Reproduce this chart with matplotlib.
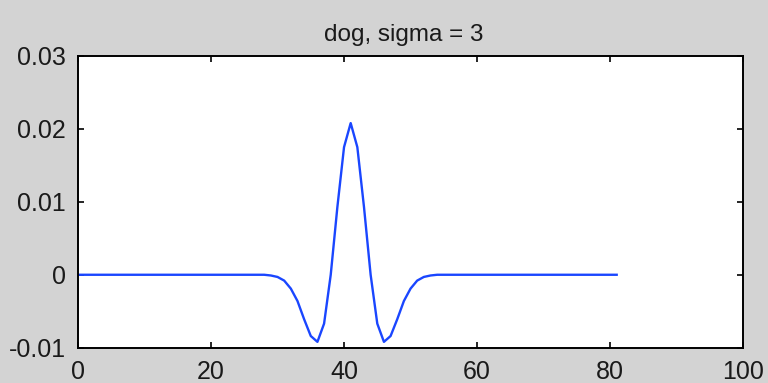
import matplotlib.pyplot as plt

# sample index along the filter
x_vals = list(range(82))

# filter response: flat tails, dog lobe in the middle (x = 29 .. 53)
left_tail = [0.0] * 29
lobe = [-0.0001, -0.0003, -0.0008, -0.0019, -0.0036, -0.0061, -0.0084,
        -0.0092, -0.0067, 0.0, 0.0093, 0.0175, 0.0208, 0.0175, 0.0093,
        0.0, -0.0067, -0.0092, -0.0084, -0.0061, -0.0036, -0.0019,
        -0.0008, -0.0003, -0.0001]
right_tail = [0.0] * 28
y_vals = left_tail + lobe + right_tail

x_ticks = [0, 20, 40, 60, 80, 100]
y_ticks = [-0.01, 0, 0.01, 0.02, 0.03]
y_tick_labels = ["-0.01", "0", "0.01", "0.02", "0.03"]

title = "dog, sigma = 3"

plt.rcParams['font.family'] = ['Liberation Sans', 'DejaVu Sans']

fig = plt.figure(figsize=(7.68, 3.83), dpi=100, facecolor='#d3d3d3')
ax = fig.add_axes([0.1016, 0.0922, 0.8659, 0.7616])
ax.set_facecolor('white')

ax.plot(x_vals, y_vals, color='#1a46ff', linewidth=1.7)

ax.set_xlim(0, 100)
ax.set_ylim(-0.01, 0.03)
ax.set_xticks(x_ticks)
ax.set_yticks(y_ticks)
ax.set_yticklabels(y_tick_labels)
ax.tick_params(direction='in', length=4, width=1.2, top=True, right=True,
               labelsize=18, pad=9, colors='black', labelcolor='#1a1a1a')

for spine in ax.spines.values():
    spine.set_linewidth(1.4)
    spine.set_color('black')

ax.set_title(title, fontsize=17.5, color='#1a1a1a', pad=11, x=0.49)

fig.savefig("out.png", dpi=100, facecolor=fig.get_facecolor())
